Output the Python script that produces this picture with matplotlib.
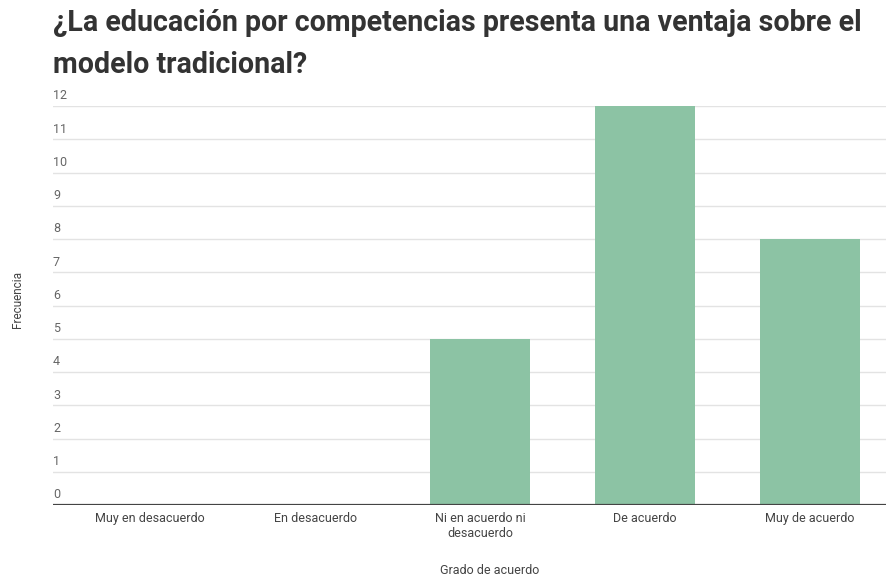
import matplotlib.pyplot as plt

categorias = ["Muy en desacuerdo", "En desacuerdo", "Ni en acuerdo ni\ndesacuerdo",
              "De acuerdo", "Muy de acuerdo"]
frecuencias = [0, 0, 5, 12, 8]
ticks_y = list(range(0, 13))

plt.rcParams['font.family'] = ['Roboto', 'DejaVu Sans']

fig = plt.figure(figsize=(8.86, 5.82), dpi=100)
ax = fig.add_axes([53 / 886, 1 - 505 / 582, 1 - 53 / 886, (505 - 106) / 582])

x = list(range(len(categorias)))
ax.bar(x, frecuencias, width=0.61, color="#8cc3a4", zorder=2)

ax.set_xlim(-0.588, 4.46)
ax.set_ylim(0, 12)

# grid lines with the value written just above each one
for v in ticks_y:
    if v > 0:
        ax.axhline(v, color="#e3e3e3", linewidth=1, zorder=1)
    ax.text(-0.588, v + 0.11, str(v), fontsize=9, color="#666666",
            ha="left", va="bottom", zorder=3)
ax.axhline(0, color="#444444", linewidth=1.6, zorder=3)

ax.set_yticks([])
ax.set_xticks(x)
ax.set_xticklabels(categorias, fontsize=9, color="#444444", linespacing=1.2)
ax.tick_params(axis="x", length=0, pad=5)
for s in ax.spines.values():
    s.set_visible(False)

fig.text(53 / 886, 1 - 9 / 582,
         "¿La educación por competencias presenta una ventaja sobre el\nmodelo tradicional?",
         fontsize=20.6, fontweight="bold", color="#333333", ha="left", va="top",
         linespacing=1.62)
fig.text(17 / 886, 1 - 300 / 582, "Frecuencia", rotation=90, fontsize=8.5,
         color="#444444", ha="center", va="center")
fig.text(490 / 886, 1 - 571 / 582, "Grado de acuerdo", fontsize=9,
         color="#444444", ha="center", va="center")

fig.savefig("out.png", dpi=100)
